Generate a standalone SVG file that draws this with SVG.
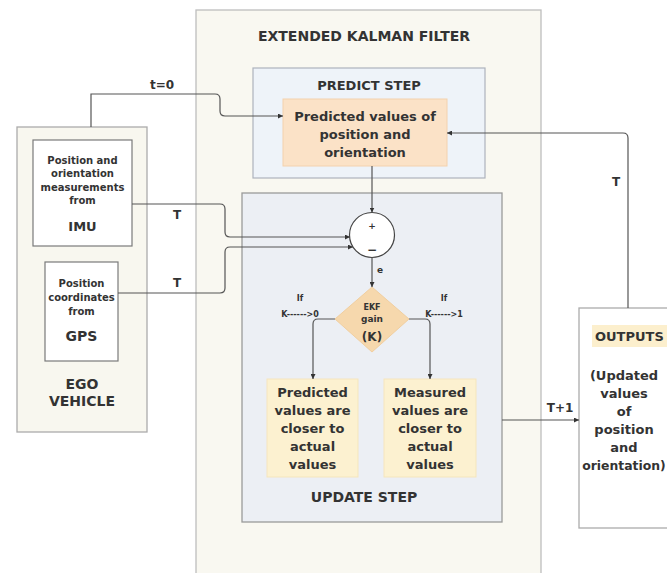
<svg xmlns="http://www.w3.org/2000/svg" width="667" height="573" viewBox="0 0 667 573">
  <style>
    text { font-family: "DejaVu Sans", "Liberation Sans", sans-serif; font-weight: bold; fill: #333; text-anchor: middle; }
    .t14 { font-size: 14px; }
    .t13 { font-size: 13px; }
    .t10 { font-size: 10px; }
    .t12 { font-size: 12px; }
    .t9 { font-size: 9px; }
    .t8 { font-size: 8px; }
    .wire { fill: none; stroke: #555; stroke-width: 1.2; }
    .arrow { marker-end: url(#head); }
  </style>
  <defs>
    <marker id="head" viewBox="0 0 6 6" refX="6" refY="3" markerWidth="5" markerHeight="5" markerUnits="userSpaceOnUse" orient="auto">
      <path d="M0,0 L6,3 L0,6 Z" fill="#333"/>
    </marker>
  </defs>

  <rect width="667" height="573" fill="#ffffff"/>

  <!-- Extended Kalman Filter container -->
  <g id="ekf">
    <rect x="196" y="10" width="345" height="572" fill="#f9f8f1" stroke="#bdbdbd" stroke-width="1.3"/>
    <text class="t14" x="364" y="41">EXTENDED KALMAN FILTER</text>
  </g>

  <!-- Predict step -->
  <g id="predict-step">
    <rect x="253" y="68" width="232" height="110" fill="#eef3f9" stroke="#adb3bc" stroke-width="1.2"/>
    <text class="t13" x="369" y="90">PREDICT STEP</text>
  </g>
  <g id="predicted-values">
    <rect x="283" y="99" width="164" height="67" fill="#fbe2c7" stroke="#f3d2ae" stroke-width="1"/>
    <text class="t13" x="365" y="120.5">Predicted values of</text>
    <text class="t13" x="365" y="138.5">position and</text>
    <text class="t13" x="365" y="156.5">orientation</text>
  </g>

  <!-- Update step -->
  <g id="update-step">
    <rect x="242" y="193" width="260" height="329" fill="#eceff4" stroke="#9a9a9a" stroke-width="1.3"/>
    <text class="t14" x="364" y="502">UPDATE STEP</text>
  </g>
  <g id="sum-junction">
    <circle cx="372" cy="235" r="22.5" fill="#ffffff" stroke="#444" stroke-width="1.2"/>
    <text class="t9" x="372" y="229">+</text>
    <text class="t12" x="372" y="254">−</text>
  </g>
  <g id="ekf-gain">
    <polygon points="372,287 409,319 372,352 335,319" fill="#f6d8ad" stroke="#f1cfa0" stroke-width="1"/>
    <text class="t8" x="372" y="310">EKF</text>
    <text class="t9" x="372" y="322">gain</text>
    <text class="t12" x="372" y="341">(K)</text>
  </g>
  <g id="predicted-closer">
    <rect x="267" y="379" width="91" height="98" fill="#fcf1d0" stroke="#f5e6bd" stroke-width="1"/>
    <text class="t13" x="312.5" y="396.5">Predicted</text>
    <text class="t13" x="312.5" y="414.5">values are</text>
    <text class="t13" x="312.5" y="432.5">closer to</text>
    <text class="t13" x="312.5" y="450.5">actual</text>
    <text class="t13" x="312.5" y="469">values</text>
  </g>
  <g id="measured-closer">
    <rect x="384" y="379" width="92" height="98" fill="#fcf1d0" stroke="#f5e6bd" stroke-width="1"/>
    <text class="t13" x="430" y="396.5">Measured</text>
    <text class="t13" x="430" y="414.5">values are</text>
    <text class="t13" x="430" y="432.5">closer to</text>
    <text class="t13" x="430" y="450.5">actual</text>
    <text class="t13" x="430" y="469">values</text>
  </g>

  <!-- Ego vehicle and its sensors -->
  <g id="ego-vehicle">
    <rect x="17" y="127" width="130" height="305" fill="#f8f7ef" stroke="#ababab" stroke-width="1.3"/>
    <text class="t14" x="82" y="389">EGO</text>
    <text class="t14" x="82" y="406">VEHICLE</text>
  </g>
  <g id="imu">
    <rect x="33" y="140" width="99" height="106" fill="#ffffff" stroke="#7a7a7a" stroke-width="1.2"/>
    <text class="t10" x="82.5" y="163.5">Position and</text>
    <text class="t10" x="82.5" y="177">orientation</text>
    <text class="t10" x="82.5" y="190.5">measurements</text>
    <text class="t10" x="82.5" y="204">from</text>
    <text class="t13" x="82.5" y="231">IMU</text>
  </g>
  <g id="gps">
    <rect x="45" y="262" width="73" height="99" fill="#ffffff" stroke="#7a7a7a" stroke-width="1.2"/>
    <text class="t10" x="81.5" y="286.5">Position</text>
    <text class="t10" x="81.5" y="300.5">coordinates</text>
    <text class="t10" x="81.5" y="314.5">from</text>
    <text class="t14" x="81.5" y="341">GPS</text>
  </g>

  <!-- Outputs -->
  <g id="outputs">
    <rect x="579" y="308" width="110" height="220" fill="#ffffff" stroke="#ababab" stroke-width="1.3"/>
    <rect x="592" y="325" width="85" height="22" fill="#fcefcd"/>
    <text class="t13" x="595" y="341" style="text-anchor:start">OUTPUTS</text>
    <text class="t13" x="624" y="379.5">(Updated</text>
    <text class="t13" x="624" y="397.5">values</text>
    <text class="t13" x="624" y="415.5">of</text>
    <text class="t13" x="624" y="433.5">position</text>
    <text class="t13" x="624" y="451.5">and</text>
    <text x="624" y="469.5" style="font-size:12.4px">orientation)</text>
  </g>

  <!-- Connectors -->
  <g id="connectors">
    <path class="wire arrow" d="M91,127 V94 H215 Q220,94 220,99 V111 Q220,116 225,116 H283"/>
    <path class="wire arrow" d="M132,204 H220 Q225,204 225,209 V232 Q225,237 230,237 H350"/>
    <path class="wire arrow" d="M118,293 H220 Q225,293 225,288 V252 Q225,247 230,247 H353"/>
    <path class="wire arrow" d="M372,166 V212.5"/>
    <path class="wire arrow" d="M372,257.5 V287"/>
    <path class="wire arrow" d="M335,319 H318 Q313,319 313,324 V379"/>
    <path class="wire arrow" d="M409,319 H425 Q430,319 430,324 V379"/>
    <path class="wire arrow" d="M502,420 H579"/>
    <path class="wire arrow" d="M628,308 V138 Q628,133 623,133 H447"/>

    <text class="t12" x="162" y="89">t=0</text>
    <text class="t12" x="177" y="219">T</text>
    <text class="t12" x="177" y="287">T</text>
    <text class="t12" x="616" y="186">T</text>
    <text class="t12" x="560" y="412">T+1</text>
    <text class="t9" x="380" y="273">e</text>
    <text class="t8" x="300" y="301">If</text>
    <text class="t8" x="300" y="317">K------&gt;0</text>
    <text class="t8" x="444" y="301">If</text>
    <text class="t8" x="444" y="317">K------&gt;1</text>
  </g>
</svg>
